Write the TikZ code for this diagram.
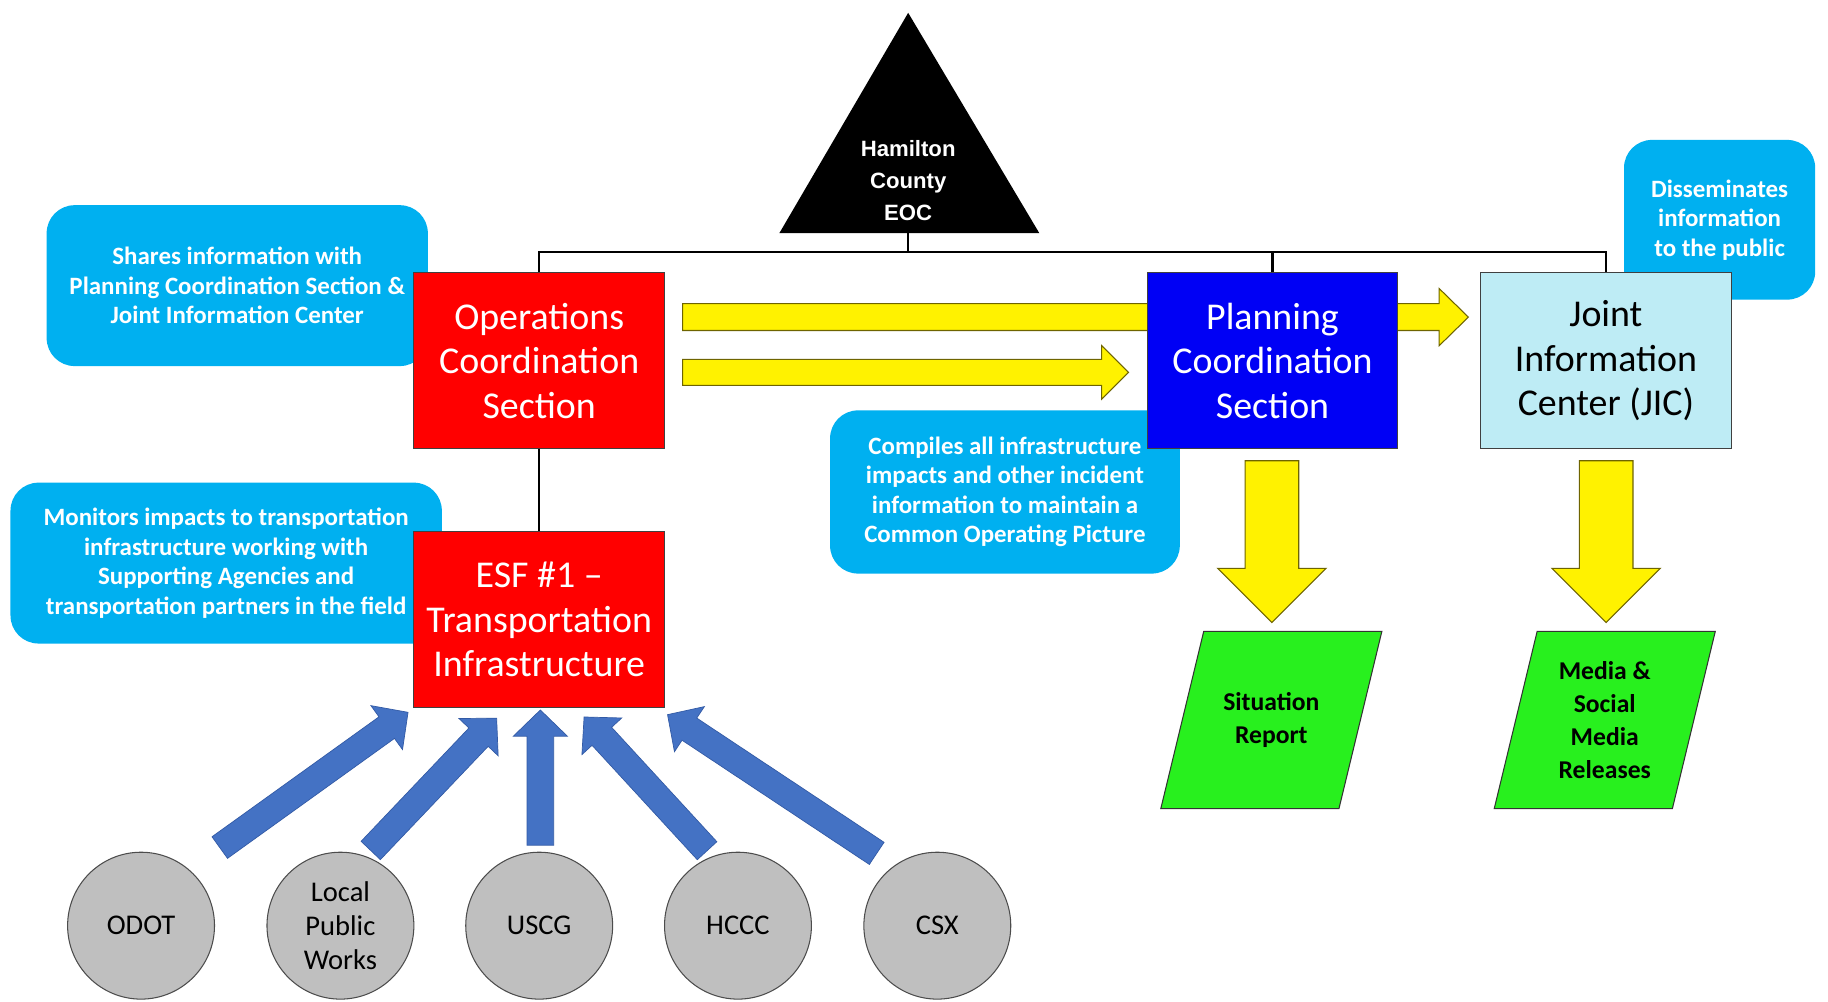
\documentclass[tikz,border=0pt]{standalone}
\usepackage{fontspec}
\setmainfont{Carlito}
\newfontfamily\arialfont{Liberation Sans}
\usetikzlibrary{calc}

\definecolor{callblue}{RGB}{0,176,240}
\definecolor{planblue}{RGB}{0,0,245}
\definecolor{jiccyan}{RGB}{190,236,245}
\definecolor{brightgreen}{RGB}{40,240,30}
\definecolor{arrowblue}{RGB}{68,114,196}
\definecolor{arrowblueline}{RGB}{50,90,165}
\definecolor{yelline}{RGB}{110,100,0}
\definecolor{circgray}{RGB}{191,191,191}

\newcommand{\blockarrow}[6]{%
  \coordinate (ba-h) at ($(#3)!#6!(#2)$);
  \draw[#1] ($(#2)!#4!90:(#3)$) -- ($(ba-h)!#4!90:(#3)$) -- ($(ba-h)!#5!90:(#3)$) -- (#3)
    -- ($(ba-h)!#5!-90:(#3)$) -- ($(ba-h)!#4!-90:(#3)$) -- ($(#2)!#4!-90:(#3)$) -- cycle;
}

\tikzset{
  mainbox/.style={draw=black!75, line width=0.8pt, minimum width=215pt, minimum height=151pt,
    inner sep=0pt, align=center, font=\fontsize{32.5}{38}\selectfont},
  callout/.style={fill=callblue, rounded corners=24pt, inner sep=0pt, align=center, text=white,
    font=\bfseries\fontsize{21.4}{25.3}\selectfont},
  yarrow/.style={fill=yellow, draw=yelline, line width=0.9pt, line join=miter},
  barrow/.style={fill=arrowblue, draw=arrowblueline, line width=0.6pt, line join=miter},
  agency/.style={circle, fill=circgray, draw=black!70, line width=0.9pt, minimum size=126pt,
    inner sep=0pt, align=center, font=\fontsize{24.5}{29.5}\selectfont},
  product/.style={fill=brightgreen, draw=black!80, line width=0.9pt},
  prodtext/.style={align=center, font=\bfseries\fontsize{22}{28.5}\selectfont},
  orgline/.style={draw=black, line width=2pt}
}

\begin{document}
\begin{tikzpicture}[x=1pt, y=-1pt]
\fill[white] (0,0) rectangle (1568,859);
\useasboundingbox (0,0) rectangle (1568,859);

% callouts
\node[callout, minimum width=327pt, minimum height=138pt] (shares) at (203.5,245)
  {Shares information with\\Planning Coordination Section \&\\Joint Information Center};
\node[callout, minimum width=370pt, minimum height=138pt] (monitors) at (194,483)
  {Monitors impacts to transportation\\infrastructure working with\\Supporting Agencies and\\transportation partners in the field};
\node[callout, minimum width=300pt, minimum height=140pt] (compiles) at (862,422)
  {Compiles all infrastructure\\impacts and other incident\\information to maintain a\\Common Operating Picture};
\node[callout, minimum width=164pt, minimum height=137pt] (dissem) at (1475,188.5)
  {Disseminates\\information\\to the public};

% EOC triangle
\fill[black] (779,11) -- (891.5,200) -- (668.5,200) -- cycle;
\node[text=white, align=center, font=\arialfont\bfseries\fontsize{19}{27.5}\selectfont] (eoc) at (779,155)
  {Hamilton\\County\\EOC};
\coordinate (eocb) at (779,200);
\coordinate (bus) at (779,216);

% yellow horizontal arrows
\coordinate (y1s) at (585.5,272);
\coordinate (y1e) at (1259.5,272);
\blockarrow{yarrow}{y1s}{y1e}{11.5pt}{24.5pt}{25pt}
\coordinate (y2s) at (585.5,319.4);
\coordinate (y2e) at (968,319.4);
\blockarrow{yarrow}{y2s}{y2e}{11.2pt}{23pt}{23pt}

% main boxes
\node[mainbox, fill=red, text=white] (ops) at (462.5,309.5) {Operations\\Coordination\\Section};
\node[mainbox, fill=red, text=white] (esf) at (462.5,531.5) {ESF \#1 –\\Transportation\\Infrastructure};
\node[mainbox, fill=planblue, text=white] (plan) at (1091.5,309.5) {Planning\\Coordination\\Section};
\node[mainbox, fill=jiccyan, text=black] (jic) at (1377.5,309.5) {Joint\\Information\\Center (JIC)};

% org lines
\draw[orgline] (eocb) -- (bus);
\draw[orgline] (ops.north) |- (bus) -| (jic.north);
\draw[orgline] (plan.north) -- (plan.north |- bus);
\draw[orgline] (ops.south) -- (esf.north);

% down arrows
\coordinate (d1s) at (1091,395.2);
\coordinate (d1e) at (1091,534);
\blockarrow{yarrow}{d1s}{d1e}{23pt}{46.5pt}{46.5pt}
\coordinate (d2s) at (1377.7,395.2);
\coordinate (d2e) at (1377.7,534);
\blockarrow{yarrow}{d2s}{d2e}{23pt}{46.5pt}{46.5pt}

% products
\coordinate (sitc) at (1090.5,617.6);
\draw[product] ($(sitc)+(-58,-76)$) -- ($(sitc)+(94.8,-76)$) -- ($(sitc)+(58,76)$) -- ($(sitc)+(-94.8,76)$) -- cycle;
\node[prodtext] (sit) at (sitc) {Situation\\Report};
\coordinate (medc) at (1376.5,617.6);
\draw[product] ($(medc)+(-58,-76)$) -- ($(medc)+(94.8,-76)$) -- ($(medc)+(58,76)$) -- ($(medc)+(-94.8,76)$) -- cycle;
\node[prodtext] (media) at (medc) {Media \&\\Social\\Media\\Releases};

% agencies
\node[agency] (odot) at (121,794) {ODOT};
\node[agency] (lpw) at (292,794) {Local\\Public\\Works};
\node[agency] (uscg) at (462.5,794) {USCG};
\node[agency] (hccc) at (633,794) {HCCC};
\node[agency] (csx) at (804,794) {CSX};

% blue arrows
\coordinate (b1s) at (188.5,727);
\coordinate (b1e) at (350,611);
\blockarrow{barrow}{b1s}{b1e}{11.4pt}{23.2pt}{22.5pt}
\coordinate (b2s) at (318,729.5);
\coordinate (b2e) at (426,616);
\blockarrow{barrow}{b2s}{b2e}{11.4pt}{23.2pt}{22.5pt}
\coordinate (b3s) at (463.5,725);
\coordinate (b3e) at (463.5,609);
\blockarrow{barrow}{b3s}{b3e}{11.4pt}{23.2pt}{22.5pt}
\coordinate (b4s) at (606.5,729.7);
\coordinate (b4e) at (501,615);
\blockarrow{barrow}{b4s}{b4e}{11.4pt}{23.2pt}{22.5pt}
\coordinate (b5s) at (752,732);
\coordinate (b5e) at (572.6,613);
\blockarrow{barrow}{b5s}{b5e}{11.4pt}{23.2pt}{22.5pt}
\end{tikzpicture}
\end{document}
